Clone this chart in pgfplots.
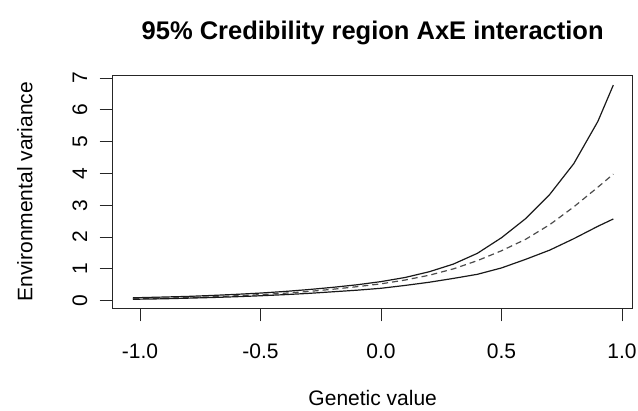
\documentclass[border=0pt]{standalone}
\usepackage{pgfplots}
\pgfplotsset{compat=1.18}
\usepackage{pgfplotstable}
\usepackage{fontspec}
\setmainfont{Liberation Sans}

\pgfplotstableread{
x      lo     mean   up
-1.03  0.045  0.065  0.090
-0.90  0.060  0.082  0.115
-0.80  0.080  0.100  0.135
-0.70  0.100  0.125  0.165
-0.60  0.125  0.155  0.200
-0.50  0.155  0.190  0.240
-0.40  0.190  0.235  0.290
-0.30  0.230  0.290  0.350
-0.20  0.280  0.360  0.420
-0.10  0.330  0.440  0.500
0.00   0.390  0.530  0.600
0.10   0.480  0.650  0.730
0.20   0.580  0.800  0.910
0.30   0.700  1.000  1.150
0.40   0.830  1.260  1.490
0.50   1.030  1.570  1.980
0.60   1.300  1.930  2.580
0.70   1.590  2.390  3.340
0.80   1.950  2.950  4.310
0.90   2.340  3.570  5.640
0.964  2.570  3.980  6.780
}\band

\begin{document}
\begin{tikzpicture}
\fontsize{21pt}{25pt}\selectfont
\useasboundingbox (-112.7pt,-102.7pt) rectangle (525.3pt,308.3pt);
\begin{axis}[
  scale only axis,
  width=520pt, height=233.3pt,
  xmin=-1.1133, xmax=1.0444,
  ymin=-0.239, ymax=7.097,
  axis line style={line width=0.9pt, black!85},
  tick style={line width=0.9pt, black!85},
  tick align=outside,
  major tick length=13pt,
  xtick pos=left, ytick pos=left,
  xtick={-1,-0.5,0,0.5,1},
  xticklabels={-1.0,-0.5,0.0,0.5,1.0},
  ytick={0,1,2,3,4,5,6,7},
  yticklabels={0,1,2,3,4,5,6,7},
  ticklabel style={font=\fontsize{21pt}{25pt}\selectfont, inner sep=0pt},
  xticklabel style={anchor=base, yshift=-37pt},
  yticklabel style={rotate=90, anchor=base},
  yticklabel shift=12.5pt,
  clip=false,
]
\addplot[black!90, line width=1.2pt] table[x=x, y=up] {\band};
\addplot[black!70, line width=1.2pt, dash pattern=on 6pt off 4pt] table[x=x, y=mean] {\band};
\addplot[black!90, line width=1.2pt] table[x=x, y=lo] {\band};
\end{axis}
\node[font=\bfseries\fontsize{25.5pt}{30pt}\selectfont, anchor=base, inner sep=0pt] at (260pt, 268.3pt) {95\% Credibility region AxE interaction};
\node[anchor=base, inner sep=0pt] at (260pt, -97.7pt) {Genetic value};
\node[rotate=90, anchor=base, inner sep=0pt] at (-80.2pt, 116.65pt) {Environmental variance};
\end{tikzpicture}
\end{document}
